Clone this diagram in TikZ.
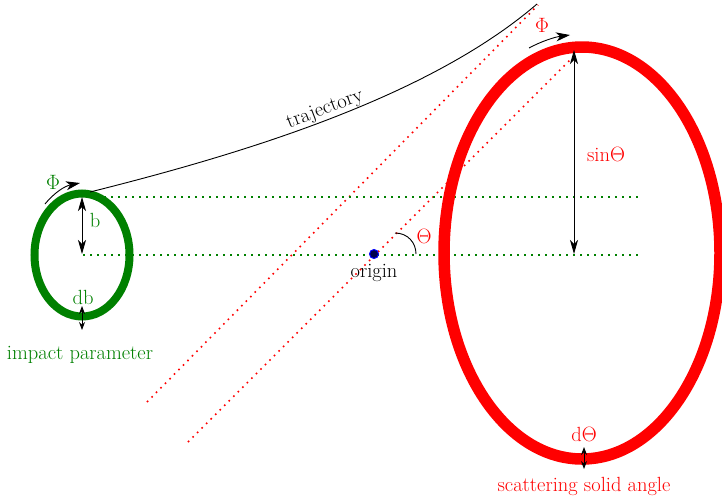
\documentclass[tikz,border=0pt]{standalone}
\usetikzlibrary{arrows.meta}
\definecolor{dkgreen}{RGB}{0,128,0}
\definecolor{rred}{RGB}{255,0,0}
\begin{document}
\begin{tikzpicture}[x=1pt,y=-1pt,
  every node/.style={font=\rmfamily\fontsize{20.5}{24}\selectfont, inner sep=1pt},
  tip/.style={-{Stealth[length=14pt,width=9pt,inset=4pt]}},
  dtip/.style={{Stealth[length=14pt,width=8pt,inset=4pt]}-{Stealth[length=14pt,width=8pt,inset=4pt]}},
  stip/.style={{Stealth[length=8pt,width=6pt]}-{Stealth[length=8pt,width=6pt]}},
  gdots/.style={dkgreen, line width=1.6pt, dash pattern=on 1.6pt off 5.4pt},
  rdots/.style={rred, line width=1.6pt, dash pattern=on 1.6pt off 4.8pt},
  lbl/.style={anchor=base}]
\useasboundingbox (0,0) rectangle (722,501);
% red dotted lines
\coordinate (r1a) at (147,402); \coordinate (r1b) at (538,5);
\coordinate (r2a) at (188,442); \coordinate (r2b) at (572,58);
\draw[rdots] (r1a) -- (r1b);
\draw[rdots] (r2a) -- (r2b);
% green dotted lines
\coordinate (g1a) at (90,197); \coordinate (g1b) at (640,197);
\coordinate (g2a) at (83,255); \coordinate (g2b) at (640,255);
\draw[gdots] (g1a) -- (g1b);
\draw[gdots] (g2a) -- (g2b);
% ellipses
\draw[dkgreen, line width=8pt] (82,255) ellipse [x radius=47.5, y radius=61.5];
\draw[rred, line width=11.5pt] (582,253) ellipse [x radius=138, y radius=206];
% trajectory
\coordinate (t0) at (90,192); \coordinate (t1) at (537,4);
\draw[black, line width=0.9pt] (t0) .. controls (250,152) and (430,96) .. (t1)
  node[pos=0.49, above, sloped] (trajlbl) {trajectory};
% origin
\node[circle, fill=black!70!blue, draw=blue, line width=1pt, minimum size=9pt, inner sep=0pt] (origin) at (374,254) {};
\node[lbl] (originlbl) at (374,277) {origin};
% Theta arc
\coordinate (th1) at (395,233); \coordinate (th2) at (416,254);
\draw[line width=0.9pt] (th1) .. controls (408,233) and (416,243) .. (th2);
\node[rred, lbl] (thlbl) at (424,243) {$\Theta$};
% b arrow
\coordinate (b1) at (82,197); \coordinate (b2) at (82,254);
\draw[dtip, line width=0.9pt] (b1) -- (b2);
\node[dkgreen, lbl] (blbl) at (95,227) {b};
% db
\coordinate (db1) at (82,306); \coordinate (db2) at (82,330);
\draw[stip, line width=0.9pt] (db1) -- (db2);
\node[dkgreen, lbl] (dblbl) at (83,304) {db};
\node[dkgreen, lbl] (implbl) at (80,359) {impact parameter};
% green Phi
\coordinate (gp1) at (45,204); \coordinate (gp2) at (80,183);
\draw[tip, line width=0.9pt] (gp1) .. controls (55,192) and (65,186) .. (gp2);
\node[dkgreen, lbl] (gphi) at (53,189) {$\Phi$};
% sinTheta
\coordinate (s1) at (574,50); \coordinate (s2) at (574,254);
\draw[dtip, line width=0.9pt] (s1) -- (s2);
\node[rred, lbl] (sinlbl) at (606,161) {sin$\Theta$};
% red Phi
\coordinate (rp1) at (529,48); \coordinate (rp2) at (570,35);
\draw[tip, line width=0.9pt] (rp1) .. controls (542,41) and (555,37) .. (rp2);
\node[rred, lbl] (rphi) at (542,32) {$\Phi$};
% dTheta
\coordinate (dt1) at (584,447); \coordinate (dt2) at (584,469);
\draw[stip, line width=0.9pt] (dt1) -- (dt2);
\node[rred, lbl] (dtlbl) at (584,441) {d$\Theta$};
\node[rred, lbl] (scatlbl) at (584,491) {scattering solid angle};
\end{tikzpicture}
\end{document}
